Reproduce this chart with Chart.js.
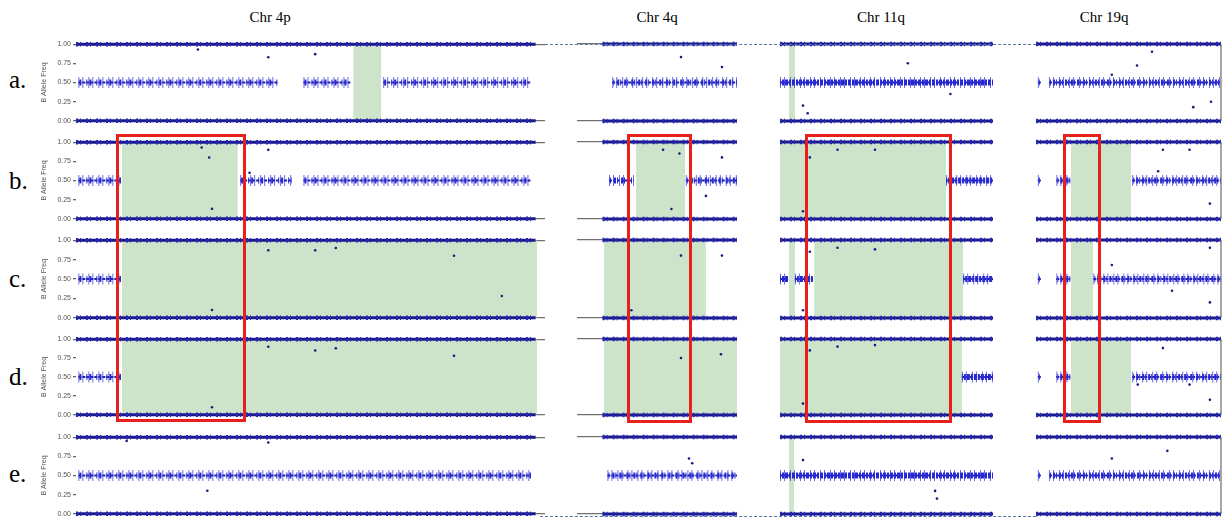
<!DOCTYPE html>
<html>
<head>
<meta charset="utf-8">
<script src="https://cdn.jsdelivr.net/npm/chart.js@4.4.0/dist/chart.umd.min.js"></script>
<style>
  body { margin: 0; background: #fff; width: 1227px; height: 517px; position: relative; overflow: hidden; font-family: "Liberation Serif", serif; }
  canvas { position: absolute; }
  .title { position: absolute; top: 9px; font-size: 15px; transform: translateX(-50%); white-space: nowrap; }
  .row { position: absolute; left: 9px; font-size: 25px; line-height: 1; }
  .box { position: absolute; border: 3px solid #e8201c; box-sizing: border-box; }
  .dots { position: absolute; height: 0; border-top: 1px dashed #5577aa; }
</style>
</head>
<body>
<script>
const chromosomes = ['Chr 4p', 'Chr 4q', 'Chr 11q', 'Chr 19q'];
const samples = ['a.', 'b.', 'c.', 'd.', 'e.'];
const yTicks = [0, 0.25, 0.5, 0.75, 1];

// x = position along the shown region, 0-100 %
// homozygous bands (BAF 0 and 1) extent per chromosome
const homRange = [[0, 98], [16, 100], [0, 100], [0, 100]];

// heterozygous (BAF 0.5) stretches, per sample a..e
const het4p  = [[[0.5, 43], [48.5, 58.5], [65.5, 97]], [[0.5, 9.6], [35, 46], [48.5, 97]], [[0.5, 9.6]], [[0.5, 9.6]], [[0.5, 97]]];
const het4q  = [[[22, 100]], [[20, 35.6], [68, 100]], [], [], [[19, 100]]];
const het11q = [[[0, 100]], [[78, 100]], [[0, 3.8], [7, 15.5], [86, 100]], [[85.4, 100]], [[0, 100]]];
const het19q = [[[1, 3], [7, 100]], [[1, 3], [11, 18.5], [52, 100]], [[1, 3], [11, 18.5], [31, 100]], [[1, 3], [11, 18.5], [52, 100]], [[1, 3], [7, 100]]];

// shaded LOH regions (green), per sample a..e
const loh4p  = [[[59.1, 65.1]], [[9.8, 34.5]], [[9.8, 98.3]], [[9.8, 98.3]], []];
const loh4q  = [[], [[36.9, 67.5]], [[16.9, 80.6]], [[16.9, 100]], []];
const loh11q = [[[4.2, 7]], [[0, 78]], [[4.2, 7], [16, 86]], [[0, 85.4]], [[4.2, 6.6]]];
const loh19q = [[], [[18.9, 51.4]], [[18.9, 30.8]], [[18.9, 51.4]], []];

// isolated off-band SNPs [x, BAF], per sample a..e
const out4p  = [[[26, 0.93], [41, 0.83], [51, 0.87]],
                [[26.8, 0.93], [28.4, 0.8], [29, 0.13], [37, 0.6], [41, 0.9]],
                [[29, 0.1], [41, 0.87], [51, 0.87], [55.4, 0.9], [80.6, 0.8], [90.8, 0.28]],
                [[29, 0.1], [41, 0.9], [51, 0.85], [55.4, 0.88], [80.6, 0.78]],
                [[10.8, 0.95], [28, 0.3], [41, 0.93]]];
const out4q  = [[[65, 0.83], [90.6, 0.7]],
                [[53.8, 0.9], [59, 0.13], [64, 0.85], [80.6, 0.3], [90.6, 0.8]],
                [[34, 0.1], [65, 0.8], [90.6, 0.8]],
                [[65, 0.75], [90, 0.8]],
                [[70, 0.72], [72, 0.66]]];
const out11q = [[[10.8, 0.2], [13, 0.1], [60, 0.75], [80, 0.35]],
                [[10.8, 0.1], [14, 0.8], [27, 0.9], [44.6, 0.9]],
                [[10.8, 0.1], [14, 0.85], [27, 0.9], [44.6, 0.88]],
                [[10.8, 0.15], [14, 0.85], [27, 0.9], [44.6, 0.92]],
                [[10.8, 0.7], [72.8, 0.3], [73.7, 0.2]]];
const out19q = [[[41, 0.6], [54.6, 0.72], [62.7, 0.9], [85, 0.18], [94.6, 0.25]],
                [[66, 0.62], [68.6, 0.9], [83, 0.9], [94, 0.2]],
                [[41, 0.68], [73.5, 0.35], [94, 0.9], [94, 0.2]],
                [[55, 0.4], [68.6, 0.88], [83, 0.4], [94, 0.2]],
                [[41, 0.72], [71, 0.82]]];

// red boxes (x range) spanning samples b..d
const redBoxes = [[8.5, 36.2], [31.3, 71.9], [11.7, 80.8], [14.6, 35.1]];

const hetSegments = [het4p, het4q, het11q, het19q];
const lohRegions = [loh4p, loh4q, loh11q, loh19q];
const outliers = [out4p, out4q, out11q, out19q];

// page layout
const plotLeft = [76, 577, 780, 1036];
const plotRight = [545, 737, 993, 1221];
const plotTop = [44, 142, 240, 339, 437];
const plotBottom = [121, 219, 318, 415, 514];
const titleX = [270, 657, 881, 1104];
const rowY = [67, 168, 266, 364, 461];
// het cloud look per chromosome: sparse for 4p, dense for 11q
const hetDash = [[1, 2, 2, 5], [2, 1, 1, 3], [3, 1, 2, 1], [2, 1, 1, 2]];

const rightFrame = {
  id: 'rightFrame',
  afterDraw(chart) {
    const a = chart.chartArea, ctx = chart.ctx;
    ctx.save();
    ctx.strokeStyle = '#777';
    ctx.lineWidth = 1.3;
    ctx.beginPath();
    ctx.moveTo(a.right, a.top);
    ctx.lineTo(a.right, a.bottom);
    ctx.stroke();
    ctx.restore();
  }
};

function seg(s, e, y) {
  return [{x: s, y: y}, {x: e, y: y}];
}

const charts = [];
samples.forEach((lab, r) => {
  charts.push([]);
  chromosomes.forEach((name, c) => {
    const axisW = c === 0 ? 36 : 0;
    const cv = document.createElement('canvas');
    cv.width = plotRight[c] - plotLeft[c] + axisW + 8;
    cv.height = plotBottom[r] - plotTop[r] + 12;
    cv.style.left = (plotLeft[c] - axisW - 4) + 'px';
    cv.style.top = (plotTop[r] - 6) + 'px';
    document.body.appendChild(cv);

    const datasets = [];
    lohRegions[c][r].forEach(([s, e]) => datasets.push({
      data: seg(s, e, 1), fill: 'origin', backgroundColor: '#cde4cb',
      borderWidth: 0, pointRadius: 0, order: 5
    }));
    [0, 1].forEach(y => {
      datasets.push({
        data: seg(homRange[c][0], homRange[c][1], y), borderColor: '#1a1a8a',
        borderWidth: 3, pointRadius: 0, order: 3, clip: 6
      });
      datasets.push({
        data: seg(homRange[c][0], homRange[c][1], y), borderColor: '#2525b8',
        borderWidth: 4.5, borderDash: [2, 2, 1, 5], pointRadius: 0, order: 2, clip: 6
      });
    });
    hetSegments[c][r].forEach(([s, e]) => {
      datasets.push({
        data: seg(s, e, 0.5), borderColor: 'rgba(45,45,220,0.7)',
        borderWidth: 11, borderDash: [1, 3, 1, 5], pointRadius: 0, order: 1
      });
      datasets.push({
        data: seg(s, e, 0.5), borderColor: '#2828d0',
        borderWidth: 6, borderDash: hetDash[c], borderDashOffset: 2, pointRadius: 0, order: 1
      });
      datasets.push({
        data: seg(s, e, 0.5), borderColor: '#1e1eaa',
        borderWidth: 2, borderDash: [3, 1], pointRadius: 0, order: 1
      });
    });
    datasets.push({
      data: outliers[c][r].map(([x, y]) => ({x, y})), showLine: false,
      pointRadius: 1.3, pointBorderWidth: 0, pointBackgroundColor: '#1a1a80', order: 0
    });

    charts[r].push(new Chart(cv, {
      type: 'line',
      data: {datasets},
      options: {
        responsive: false,
        animation: false,
        layout: {padding: {left: 4, right: 4, top: 6, bottom: 6}},
        plugins: {legend: {display: false}, tooltip: {enabled: false}},
        scales: {
          x: {type: 'linear', min: 0, max: 100, display: false},
          y: {
            min: 0, max: 1,
            afterBuildTicks: s => { s.ticks = yTicks.map(v => ({value: v})); },
            afterFit: s => { s.width = axisW; },
            border: {display: false},
            grid: {
              color: ctx => (ctx.tick && (ctx.tick.value === 0 || ctx.tick.value === 1)) ? '#707070' : 'rgba(0,0,0,0)',
              lineWidth: 1.3, drawTicks: c === 0, tickLength: 3, tickColor: '#666'
            },
            ticks: {
              display: c === 0, padding: 2, color: '#555',
              font: {family: 'Liberation Sans', size: 7},
              callback: v => Number(v).toFixed(2)
            },
            title: {
              display: c === 0, text: 'B Allele Freq', color: '#555', padding: 0,
              font: {family: 'Liberation Sans', size: 7}
            }
          }
        }
      },
      plugins: c === 3 ? [rightFrame] : []
    }));
  });
});

chromosomes.forEach((name, c) => {
  const t = document.createElement('div');
  t.className = 'title';
  t.style.left = titleX[c] + 'px';
  t.textContent = name;
  document.body.appendChild(t);
});
samples.forEach((lab, r) => {
  const t = document.createElement('div');
  t.className = 'row';
  t.style.top = rowY[r] + 'px';
  t.textContent = lab;
  document.body.appendChild(t);
});

// red boxes from row b to row d through the chart scales
redBoxes.forEach(([s, e], c) => {
  const cb = charts[1][c], cd = charts[3][c];
  const offX = parseFloat(cb.canvas.style.left);
  const x0 = cb.scales.x.getPixelForValue(s) + offX;
  const x1 = cb.scales.x.getPixelForValue(e) + offX;
  const y0 = cb.scales.y.getPixelForValue(1.11) + parseFloat(cb.canvas.style.top);
  const y1 = cd.scales.y.getPixelForValue(-0.1) + parseFloat(cd.canvas.style.top);
  const d = document.createElement('div');
  d.className = 'box';
  d.style.left = x0 + 'px';
  d.style.top = y0 + 'px';
  d.style.width = (x1 - x0) + 'px';
  d.style.height = (y1 - y0) + 'px';
  document.body.appendChild(d);
});

// dotted frame remnants between panels
[[545, 44, 491], [540, 516, 496]].forEach(([x, y, w]) => {
  const d = document.createElement('div');
  d.className = 'dots';
  d.style.left = x + 'px';
  d.style.top = y + 'px';
  d.style.width = w + 'px';
  document.body.appendChild(d);
});
</script>
</body>
</html>
